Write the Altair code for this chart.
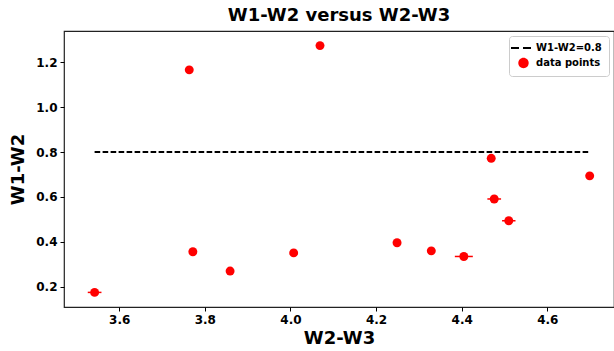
import altair as alt
import pandas as pd

# W2-W3 colour, W1-W2 colour and horizontal uncertainty for each source
w2w3 = [3.5425, 3.7636, 4.069, 3.772, 3.859, 4.0075, 4.249, 4.329, 4.405, 4.469, 4.476, 4.510, 4.699]
w1w2 = [0.175, 1.166, 1.274, 0.356, 0.270, 0.351, 0.396, 0.360, 0.335, 0.772, 0.591, 0.494, 0.694]
xerr = [0.016, 0.004, 0.004, 0.004, 0.004, 0.004, 0.004, 0.004, 0.021, 0.004, 0.016, 0.0157, 0.004]

threshold = 0.8
line_label = "W1-W2=0.8"
point_label = "data points"

pts = pd.DataFrame({"x": w2w3, "y": w1w2, "xerr": xerr, "series": point_label})
line = pd.DataFrame({"x": [min(w2w3), max(w2w3)], "y": [threshold, threshold], "series": line_label})

FONT = "DejaVu Sans"

xscale = alt.Scale(domain=[3.471, 4.7558], nice=False, zero=False)
yscale = alt.Scale(domain=[0.110, 1.339], nice=False, zero=False)

is_pt = "datum.value == 'data points'"
circle_path = "M-0.27,0a0.52,0.52 0 1,0 1.04,0a0.52,0.52 0 1,0 -1.04,0Z"
dash_path = "M-1,0H-0.2M0.2,0H1"
color = alt.Color(
    "series:N",
    scale=alt.Scale(domain=[line_label, point_label], range=["black", "red"]),
    legend=alt.Legend(
        title=None,
        orient="top-right",
        offset=5,
        fillColor="white",
        strokeColor="#cccccc",
        padding=7,
        cornerRadius=3,
        labelFont=FONT,
        labelFontWeight="bold",
        labelFontSize=10,
        labelColor="black",
        labelOffset=10,
        symbolSize=400,
        rowPadding=4,
        symbolType=alt.ExprRef(expr=f"{is_pt} ? '{circle_path}' : '{dash_path}'"),
        symbolStrokeWidth=alt.ExprRef(expr=f"{is_pt} ? 0 : 2"),
        symbolOpacity=1,
    ),
)

xax = alt.Axis(values=[3.6, 3.8, 4.0, 4.2, 4.4, 4.6], format=".1f", title="W2-W3")
yax = alt.Axis(values=[0.2, 0.4, 0.6, 0.8, 1.0, 1.2], format=".1f", title="W1-W2")

line_layer = alt.Chart(line).mark_line(strokeDash=[5.6, 2.4], strokeWidth=2).encode(
    x=alt.X("x:Q", scale=xscale, axis=xax),
    y=alt.Y("y:Q", scale=yscale, axis=yax),
    color=color,
)

err_layer = alt.Chart(pts).transform_calculate(
    lo="datum.x - datum.xerr", hi="datum.x + datum.xerr"
).mark_rule(color="red", strokeWidth=1.5).encode(
    x=alt.X("lo:Q", scale=xscale),
    x2="hi:Q",
    y=alt.Y("y:Q", scale=yscale),
)

pt_layer = alt.Chart(pts).mark_circle(size=80, opacity=1).encode(
    x=alt.X("x:Q", scale=xscale),
    y=alt.Y("y:Q", scale=yscale),
    color=color,
)

chart = alt.layer(line_layer, err_layer, pt_layer).properties(
    width=550,
    height=276,
    title=alt.TitleParams("W1-W2 versus W2-W3", font=FONT, fontSize=18, fontWeight="bold",
                          color="black", offset=6, anchor="middle"),
    autosize=alt.AutoSizeParams(type="none"),
    padding={"left": 64, "top": 31, "right": 0, "bottom": 44},
).configure_view(
    stroke="#222222", strokeWidth=1.2
).configure_axis(
    grid=False,
    domain=False,
    tickColor="black",
    tickSize=4,
    tickWidth=1,
    labelPadding=3,
    labelFont=FONT,
    labelFontSize=12,
    labelFontWeight="bold",
    labelColor="black",
    titleFont=FONT,
    titleFontSize=18,
    titleFontWeight="bold",
    titleColor="black",
).configure_axisX(
    titlePadding=4,
).configure_axisY(
    titlePadding=8,
)

chart.save("out.html", embed_options={"renderer": "svg", "actions": False})
